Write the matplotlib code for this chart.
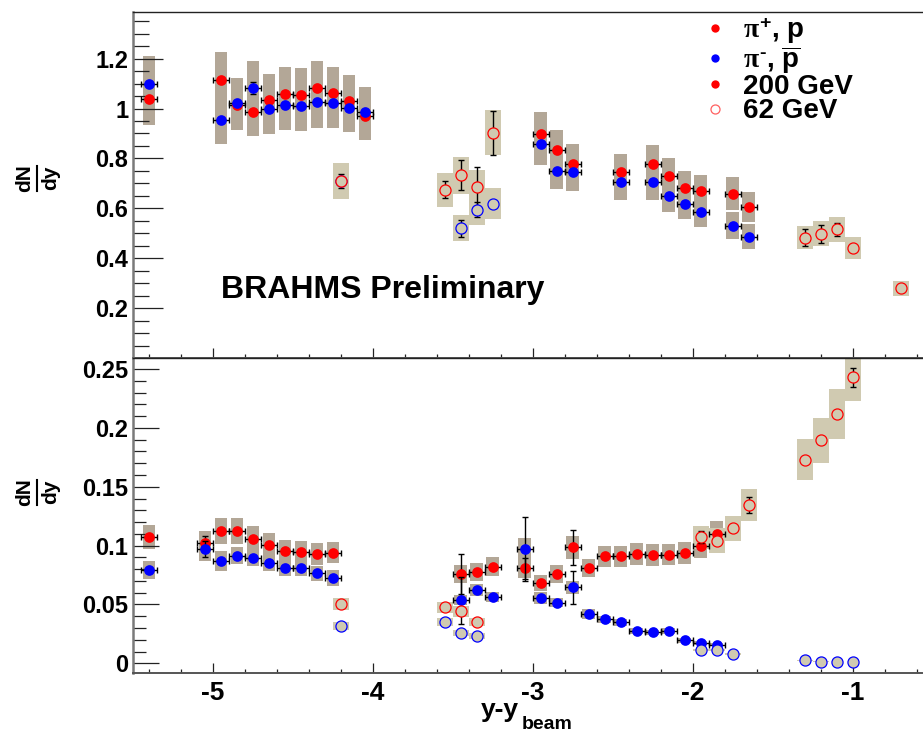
import matplotlib
matplotlib.use('Agg')
import matplotlib.pyplot as plt
from matplotlib.lines import Line2D
from matplotlib.ticker import FixedLocator, FixedFormatter, MultipleLocator

plt.rcParams['font.family'] = ['Liberation Sans', 'DejaVu Sans']
plt.rcParams['font.weight'] = 'bold'
plt.rcParams['axes.unicode_minus'] = False
plt.rcParams['mathtext.fontset'] = 'custom'
plt.rcParams['mathtext.rm'] = 'Liberation Sans:bold'
plt.rcParams['mathtext.bf'] = 'Liberation Sans:bold'
plt.rcParams['mathtext.it'] = 'Liberation Serif'
plt.rcParams['mathtext.sf'] = 'Liberation Sans:bold'

# ---------------- data: top panel (pions) ----------------
t_x200 = [-5.40, -4.95, -4.85, -4.75, -4.65, -4.55, -4.45, -4.35, -4.25, -4.15, -4.05,
          -2.95, -2.85, -2.75, -2.45, -2.25, -2.15, -2.05, -1.95, -1.75, -1.65]
t_pip = [1.040, 1.115, 1.014, 0.988, 1.034, 1.060, 1.056, 1.083, 1.062, 1.032, 0.971,
         0.896, 0.832, 0.779, 0.744, 0.777, 0.729, 0.680, 0.668, 0.659, 0.605]
t_pip_stat = [0.012, 0.012, 0.012, 0.012, 0.012, 0.012, 0.012, 0.012, 0.012, 0.012, 0.012,
              0.010, 0.010, 0.010, 0.010, 0.010, 0.010, 0.010, 0.010, 0.010, 0.010]
t_pip_sys = [0.104, 0.112, 0.101, 0.099, 0.103, 0.106, 0.106, 0.108, 0.106, 0.103, 0.097,
             0.090, 0.083, 0.078, 0.074, 0.078, 0.073, 0.068, 0.067, 0.066, 0.061]
t_pim = [1.100, 0.955, 1.022, 1.082, 0.998, 1.014, 1.011, 1.026, 1.022, 1.004, 0.986,
         0.859, 0.751, 0.744, 0.705, 0.704, 0.651, 0.618, 0.584, 0.531, 0.487]
t_pim_stat = [0.012, 0.012, 0.012, 0.025, 0.012, 0.012, 0.012, 0.012, 0.012, 0.012, 0.012,
              0.010, 0.010, 0.010, 0.010, 0.010, 0.010, 0.010, 0.010, 0.010, 0.010]
t_pim_sys = [0.110, 0.096, 0.102, 0.108, 0.100, 0.101, 0.101, 0.103, 0.102, 0.100, 0.099,
             0.086, 0.075, 0.074, 0.071, 0.070, 0.065, 0.062, 0.058, 0.053, 0.049]

t_x62p = [-4.20, -3.55, -3.45, -3.35, -3.25, -1.30, -1.20, -1.10, -1.00, -0.70]
t_pip62 = [0.711, 0.675, 0.732, 0.684, 0.903, 0.483, 0.499, 0.517, 0.440, 0.280]
t_pip62_stat = [0.028, 0.035, 0.060, 0.083, 0.089, 0.033, 0.036, 0.026, 0.010, 0.020]
t_pip62_sys = [0.071, 0.068, 0.073, 0.070, 0.090, 0.046, 0.049, 0.050, 0.044, 0.030]
t_x62m = [-4.20, -3.45, -3.35, -3.25]
t_pim62 = [0.708, 0.520, 0.595, 0.618]
t_pim62_stat = [0.010, 0.035, 0.030, 0.010]
t_pim62_sys = [0.070, 0.052, 0.060, 0.062]

# ---------------- data: bottom panel (protons) ----------------
b_x200 = [-5.40, -5.05, -4.95, -4.85, -4.75, -4.65, -4.55, -4.45, -4.35, -4.25,
          -3.45, -3.35, -3.25, -3.05, -2.95, -2.85, -2.75, -2.65, -2.55, -2.45,
          -2.35, -2.25, -2.15, -2.05, -1.95, -1.85]
b_p = [0.1076, 0.1020, 0.1124, 0.1124, 0.1059, 0.1005, 0.0954, 0.0948, 0.0931, 0.0940,
       0.0756, 0.0773, 0.0821, 0.0807, 0.0680, 0.0759, 0.0986, 0.0807, 0.0909, 0.0909,
       0.0931, 0.0918, 0.0923, 0.0940, 0.0994, 0.1099]
b_p_stat = [0.002, 0.006, 0.002, 0.002, 0.002, 0.002, 0.002, 0.002, 0.002, 0.002,
            0.017, 0.003, 0.003, 0.009, 0.003, 0.003, 0.015, 0.002, 0.002, 0.002,
            0.002, 0.002, 0.002, 0.002, 0.003, 0.003]
b_p_sys = [0.0102, 0.0100, 0.0110, 0.0110, 0.0105, 0.0100, 0.0095, 0.0094, 0.0093, 0.0090,
           0.0076, 0.0077, 0.0082, 0.0081, 0.0068, 0.0076, 0.0099, 0.0078, 0.0091, 0.0091,
           0.0093, 0.0092, 0.0092, 0.0094, 0.0099, 0.0110]
b_pbar = [0.0790, 0.0970, 0.0869, 0.0914, 0.0895, 0.0855, 0.0807, 0.0807, 0.0765, 0.0727,
          0.0537, 0.0625, 0.0563, 0.0971, 0.0552, 0.0515, 0.0645, 0.0416, 0.0374, 0.0349,
          0.0272, 0.0263, 0.0272, 0.0194, 0.0175, 0.0159]
b_pbar_stat = [0.002, 0.007, 0.002, 0.002, 0.002, 0.002, 0.002, 0.002, 0.002, 0.002,
               0.020, 0.003, 0.003, 0.027, 0.002, 0.002, 0.014, 0.001, 0.001, 0.001,
               0.001, 0.001, 0.001, 0.001, 0.001, 0.001]
b_pbar_sys = [0.0078, 0.0097, 0.0082, 0.0070, 0.0070, 0.0068, 0.0065, 0.0065, 0.0062, 0.0068,
              0.0040, 0.0050, 0.0045, 0.0090, 0.0050, 0.0040, 0.0055, 0.0043, 0.0030, 0.0030,
              0.0025, 0.0022, 0.0025, 0.0018, 0.0016, 0.0015]

b_x62p = [-4.20, -3.55, -3.45, -3.35, -1.95, -1.85, -1.75, -1.65, -1.30, -1.20, -1.10, -1.00]
b_p62 = [0.0506, 0.0476, 0.0442, 0.0351, 0.1070, 0.1042, 0.1147, 0.1345, 0.1730, 0.1895, 0.2120, 0.2430]
b_p62_stat = [0.002, 0.002, 0.002, 0.002, 0.005, 0.003, 0.003, 0.0068, 0.003, 0.003, 0.003, 0.008]
b_p62_sys = [0.0050, 0.0047, 0.0045, 0.0035, 0.0095, 0.0104, 0.0107, 0.0133, 0.0174, 0.0190, 0.0212, 0.0204]
b_x62m = [-4.20, -3.55, -3.45, -3.35, -1.95, -1.85, -1.75, -1.30, -1.20, -1.10, -1.00]
b_pbar62 = [0.0317, 0.0351, 0.0255, 0.0232, 0.0113, 0.0113, 0.0076, 0.0025, 0.0014, 0.0008, 0.0008]
b_pbar62_stat = [0.001, 0.001, 0.001, 0.001, 0.001, 0.001, 0.001, 0.001, 0.001, 0.001, 0.001]
b_pbar62_sys = [0.0032, 0.0035, 0.0026, 0.0023, 0.0011, 0.0011, 0.0008, 0.0003, 0.0002, 0.0001, 0.0001]

x_halfwidth_200 = 0.05

x_ticks = [-5, -4, -3, -2, -1]
x_ticklabels = ['-5', '-4', '-3', '-2', '-1']
top_yticks = [0.2, 0.4, 0.6, 0.8, 1.0, 1.2]
top_yticklabels = ['0.2', '0.4', '0.6', '0.8', '1', '1.2']
bot_yticks = [0.0, 0.05, 0.1, 0.15, 0.2, 0.25]
bot_yticklabels = ['0', '0.05', '0.1', '0.15', '0.2', '0.25']
legend_labels = [r'$\pi^{+}$, p', r'$\pi^{\text{-}}$, $\overline{\mathrm{p}}$', '200 GeV', '62 GeV']

# ---------------- styles ----------------
RED = '#ff0000'
BLUE = '#0000ff'
BOX200 = '#b3a797'
BOX62 = '#d0cab1'
W200 = 0.08
W62 = 0.10

W, H = 923, 734
fig = plt.figure(figsize=(W / 100, H / 100), dpi=100)
ax1 = fig.add_axes([133 / W, 1 - 358 / H, (922 - 133) / W, (358 - 12) / H])
ax2 = fig.add_axes([133 / W, 1 - 673.3 / H, (922 - 133) / W, (673.3 - 358) / H])


def boxes(ax, x, y, s, w, c, z):
    bottoms = [yy - ss for yy, ss in zip(y, s)]
    heights = [2 * ss for ss in s]
    ax.bar(x, heights, bottom=bottoms, width=w, color=c, linewidth=0, zorder=z)


def visible_errors(ax, x, y, stat, r_frac, z):
    # only draw vertical bars that reach outside the marker (as ROOT does)
    ylo, yhi = ax.get_ylim()
    lim = r_frac * (yhi - ylo)
    sel = [i for i, s in enumerate(stat) if s > lim]
    if sel:
        ax.errorbar([x[i] for i in sel], [y[i] for i in sel], yerr=[stat[i] for i in sel],
                    fmt='none', ecolor='black', elinewidth=1.0, capsize=2.2,
                    capthick=1.0, zorder=z)


def filled(ax, x, y, stat, c, z):
    ax.errorbar(x, y, xerr=x_halfwidth_200, fmt='none', ecolor='black',
                elinewidth=1.0, capsize=2.2, capthick=1.0, zorder=z)
    visible_errors(ax, x, y, stat, 0.018, z)
    ax.plot(x, y, 'o', color=c, ms=7.7, mew=0, zorder=z + 0.5)


def opened(ax, x, y, stat, c, z):
    visible_errors(ax, x, y, stat, 0.018, z)
    ax.plot(x, y, 'o', mfc=BOX62, mec=c, ms=8.0, mew=0.9, zorder=z + 0.5)


ax1.set_ylim(0.0, 1.387)
ax2.set_ylim(-0.0085, 0.2594)

# top panel
boxes(ax1, t_x200, t_pip, t_pip_sys, W200, BOX200, 1)
boxes(ax1, t_x200, t_pim, t_pim_sys, W200, BOX200, 1)
boxes(ax1, t_x62p, t_pip62, t_pip62_sys, W62, BOX62, 1.2)
boxes(ax1, t_x62m, t_pim62, t_pim62_sys, W62, BOX62, 1.2)
filled(ax1, t_x200, t_pip, t_pip_stat, RED, 3)
filled(ax1, t_x200, t_pim, t_pim_stat, BLUE, 4)
opened(ax1, t_x62m, t_pim62, t_pim62_stat, BLUE, 5)
opened(ax1, t_x62p, t_pip62, t_pip62_stat, RED, 5)

# bottom panel
boxes(ax2, b_x200, b_p, b_p_sys, W200, BOX200, 1)
boxes(ax2, b_x200, b_pbar, b_pbar_sys, W200, BOX200, 1)
boxes(ax2, b_x62p, b_p62, b_p62_sys, W62, BOX62, 1.2)
boxes(ax2, b_x62m, b_pbar62, b_pbar62_sys, W62, BOX62, 1.2)
filled(ax2, b_x200, b_p, b_p_stat, RED, 3)
filled(ax2, b_x200, b_pbar, b_pbar_stat, BLUE, 4)
opened(ax2, b_x62m, b_pbar62, b_pbar62_stat, BLUE, 5)
opened(ax2, b_x62p, b_p62, b_p62_stat, RED, 5)

# axes formatting
for ax, ylo, yhi, yt, ytl, ymaj, ymin, ymn in (
        (ax1, 0.0, 1.387, top_yticks, top_yticklabels, 21.6, 11.5, 0.05),
        (ax2, -0.0085, 0.2594, bot_yticks, bot_yticklabels, 18.7, 9.4, 0.01)):
    ax.set_xlim(-5.50, -0.567)
    ax.set_ylim(ylo, yhi)
    ax.xaxis.set_major_locator(FixedLocator(x_ticks))
    ax.xaxis.set_minor_locator(MultipleLocator(0.2))
    ax.yaxis.set_major_locator(FixedLocator(yt))
    ax.yaxis.set_major_formatter(FixedFormatter(ytl))
    ax.yaxis.set_minor_locator(MultipleLocator(ymn))
    ax.tick_params(axis='y', which='major', direction='in', length=ymaj, width=0.9,
                   color='#222222', labelsize=17, pad=3.5, right=False)
    ax.tick_params(axis='y', which='minor', direction='in', length=ymin, width=0.9,
                   color='#222222', right=False)
    ax.tick_params(axis='x', which='major', direction='in', length=7.0, width=0.9,
                   color='#222222', top=False)
    ax.tick_params(axis='x', which='minor', direction='in', length=3.2, width=0.9,
                   color='#222222', top=False)
    ax.spines['right'].set_visible(False)
    ax.spines['left'].set_color('#7a7a7a')
    ax.spines['left'].set_linewidth(1.8)
    ax.spines['bottom'].set_color('#555555')
    ax.spines['bottom'].set_linewidth(1.4)
    ax.spines['top'].set_color('#222222')
    ax.spines['top'].set_linewidth(1.0)
    for lab in ax.get_yticklabels():
        lab.set_fontweight('bold')

ax1.tick_params(axis='x', labelbottom=False)
ax2.xaxis.set_major_formatter(FixedFormatter(x_ticklabels))
ax2.tick_params(axis='x', which='major', labelsize=19, pad=5.8)
for lab in ax2.get_xticklabels():
    lab.set_fontweight('bold')

# legend
handles = [
    Line2D([], [], ls='none', marker='o', ms=6, mew=0, color=RED),
    Line2D([], [], ls='none', marker='o', ms=6, mew=0, color=BLUE),
    Line2D([], [], ls='none', marker='o', ms=6, mew=0, color=RED),
    Line2D([], [], ls='none', marker='o', ms=6.5, mfc='none', mec='#ff6060', mew=0.9),
]
ax1.legend(handles, legend_labels, loc='upper left', bbox_to_anchor=(0.7183, 0.99),
           frameon=False, prop={'size': 20, 'weight': 'bold'}, borderpad=0,
           borderaxespad=0.0, handlelength=1.1, handletextpad=0.44, labelspacing=-0.06)

# texts
fig.text(220.7 / W, 1 - 298 / H, 'BRAHMS Preliminary', fontsize=23, fontweight='bold',
         ha='left', va='baseline')
fig.text(519 / W, 1 - 716.5 / H, 'y-y', fontsize=19, fontweight='bold', ha='right', va='baseline')
fig.text(522 / W, 1 - 729 / H, 'beam', fontsize=14, fontweight='bold', ha='left', va='baseline')

for yc in (178, 492):
    fig.text(30 / W, 1 - yc / H, 'dN', fontsize=15, fontweight='bold', rotation=90,
             rotation_mode='anchor', ha='center', va='baseline')
    fig.text(56.5 / W, 1 - yc / H, 'dy', fontsize=15, fontweight='bold', rotation=90,
             rotation_mode='anchor', ha='center', va='baseline')
    fig.add_artist(Line2D([36.7 / W, 36.7 / W], [1 - (yc - 12.5) / H, 1 - (yc + 12.5) / H],
                          transform=fig.transFigure, color='black', lw=1.5))

fig.savefig('out.png', dpi=100)
